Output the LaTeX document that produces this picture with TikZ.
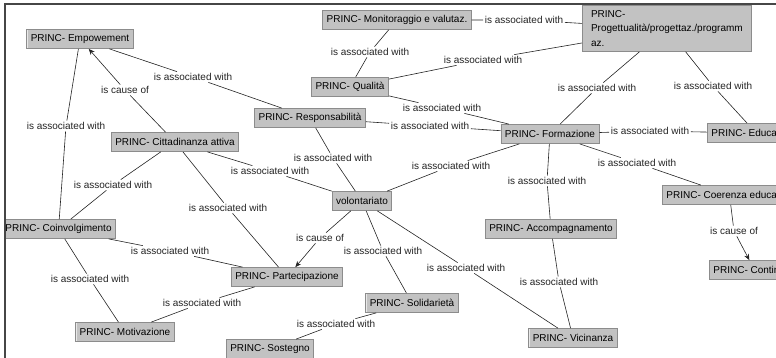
\documentclass[tikz,border=0pt]{standalone}
\usepackage{fontspec}
\setmainfont{Liberation Sans}
\usetikzlibrary{arrows.meta}
\definecolor{ConceptFill}{RGB}{194,194,194}
\definecolor{ConceptDark}{RGB}{140,140,140}
\definecolor{ConceptLight}{RGB}{232,232,232}
\definecolor{LinkLine}{RGB}{35,35,35}
\definecolor{LinkText}{RGB}{35,35,35}
\definecolor{FrameLine}{RGB}{70,70,70}

\tikzset{
  concept/.style={fill=ConceptFill, draw=ConceptDark, line width=0.8pt,
    inner xsep=4pt, inner ysep=0pt, minimum height=19pt,
    font=\fontsize{10}{12}\selectfont, text=black,
    path picture={\draw[ConceptLight, line width=1.6pt]
      (path picture bounding box.south west) -- (path picture bounding box.north west)
      -- (path picture bounding box.north east);}},
  linkword/.style={inner sep=1.5pt, font=\fontsize{10}{12}\selectfont, text=LinkText},
  link/.style={draw=LinkLine, line width=0.6pt},
  cause/.style={link, -{Stealth[length=6pt,width=5pt]}},
}

\begin{document}
\begin{tikzpicture}[x=1pt,y=-1pt]
  \useasboundingbox (0,0) rectangle (776,358);
  \begin{scope}
  \clip (5,4) rectangle (776,358);
  % concepts
  \node[concept] (emp) at (80,39) {PRINC- Empowement};
  \node[concept] (moni) at (397,20) {PRINC- Monitoraggio e valutaz.};
  \node[concept, anchor=north west, minimum width=169pt, minimum height=46pt,
        align=left, font=\fontsize{10}{14.5}\selectfont, inner xsep=5pt]
        (prog) at (582,5) {PRINC-\\Progettualità/progettaz./programm\\az.};
  \node[concept] (qual) at (350,87) {PRINC- Qualità};
  \node[concept] (resp) at (310,118) {PRINC- Responsabilità};
  \node[concept] (citt) at (175,142) {PRINC- Cittadinanza attiva};
  \node[concept] (form) at (550,134) {PRINC- Formazione};
  \node[concept, anchor=west] (educ) at (707,133) {PRINC- Educazione};
  \node[concept] (volo) at (362,201) {volontariato};
  \node[concept, anchor=east] (coin) at (116,229) {PRINC- Coinvolgimento};
  \node[concept] (part) at (287,277) {PRINC- Partecipazione};
  \node[concept] (moti) at (125,332) {PRINC- Motivazione};
  \node[concept] (sost) at (270,349) {PRINC- Sostegno};
  \node[concept] (soli) at (412,303) {PRINC- Solidarietà};
  \node[concept] (acco) at (551,229) {PRINC- Accompagnamento};
  \node[concept] (vici) at (573,338) {PRINC- Vicinanza};
  \node[concept, anchor=west] (coer) at (662,195) {PRINC- Coerenza educativa};
  \node[concept, anchor=west] (cont) at (709,270) {PRINC- Continuità};
  % linking phrases
  \node[linkword] (l1) at (125,90) {is cause of};
  \node[linkword] (l2) at (193,77) {is associated with};
  \node[linkword] (l3) at (66,126) {is associated with};
  \node[linkword] (l4) at (113,185) {is associated with};
  \node[linkword] (l5) at (228,208) {is associated with};
  \node[linkword] (l6) at (270,171) {is associated with};
  \node[linkword] (l7) at (170,251) {is associated with};
  \node[linkword] (l8) at (90,279) {is associated with};
  \node[linkword] (l9) at (202,303) {is associated with};
  \node[linkword] (l10) at (336,324) {is associated with};
  \node[linkword] (l11) at (320,238) {is cause of};
  \node[linkword] (l12) at (383,251) {is associated with};
  \node[linkword] (l13) at (466,268) {is associated with};
  \node[linkword] (l14) at (333,158) {is associated with};
  \node[linkword] (l15) at (451,166) {is associated with};
  \node[linkword] (l16) at (430,126) {is associated with};
  \node[linkword] (l17) at (442,108) {is associated with};
  \node[linkword] (l18) at (370,52) {is associated with};
  \node[linkword] (l19) at (483,60) {is associated with};
  \node[linkword] (l20) at (524,20) {is associated with};
  \node[linkword] (l21) at (597,88) {is associated with};
  \node[linkword] (l22) at (713,86) {is associated with};
  \node[linkword] (l23) at (650,131) {is associated with};
  \node[linkword] (l24) at (637,163) {is associated with};
  \node[linkword] (l25) at (547,181) {is associated with};
  \node[linkword] (l26) at (559,282) {is associated with};
  \node[linkword] (l27) at (734,231) {is cause of};
  % connections
  \draw[link] (citt) -- (l1); \draw[cause] (l1) -- (emp);
  \draw[link] (emp) -- (l2) -- (resp);
  \draw[link] (emp) -- (l3) -- (coin);
  \draw[link] (citt) -- (l4) -- (coin);
  \draw[link] (citt) -- (l5) -- (part);
  \draw[link] (citt) -- (l6) -- (volo);
  \draw[link] (coin) -- (l7) -- (part);
  \draw[link] (coin) -- (l8) -- (moti);
  \draw[link] (moti) -- (l9) -- (part);
  \draw[link] (sost) -- (l10) -- (soli);
  \draw[link] (volo) -- (l11); \draw[cause] (l11) -- (part);
  \draw[link] (volo) -- (l12) -- (soli);
  \draw[link] (volo) -- (l13) -- (vici);
  \draw[link] (resp) -- (l14) -- (volo);
  \draw[link] (form) -- (l15) -- (volo);
  \draw[link] (resp) -- (l16) -- (form);
  \draw[link] (qual) -- (l17) -- (form);
  \draw[link] (qual) -- (l18) -- (moni);
  \draw[link] (qual) -- (l19) -- (prog);
  \draw[link] (moni) -- (l20) -- (prog);
  \draw[link] (prog) -- (l21) -- (form);
  \draw[link] (prog) -- (l22) -- (educ);
  \draw[link] (form) -- (l23) -- (educ);
  \draw[link] (form) -- (l24) -- (coer);
  \draw[link] (form) -- (l25) -- (acco);
  \draw[link] (acco) -- (l26) -- (vici);
  \draw[link] (coer) -- (l27); \draw[cause] (l27) -- (cont);
  \end{scope}
  \draw[FrameLine, line width=1.2pt] (5,358) -- (5,4) -- (776,4);
\end{tikzpicture}
\end{document}
